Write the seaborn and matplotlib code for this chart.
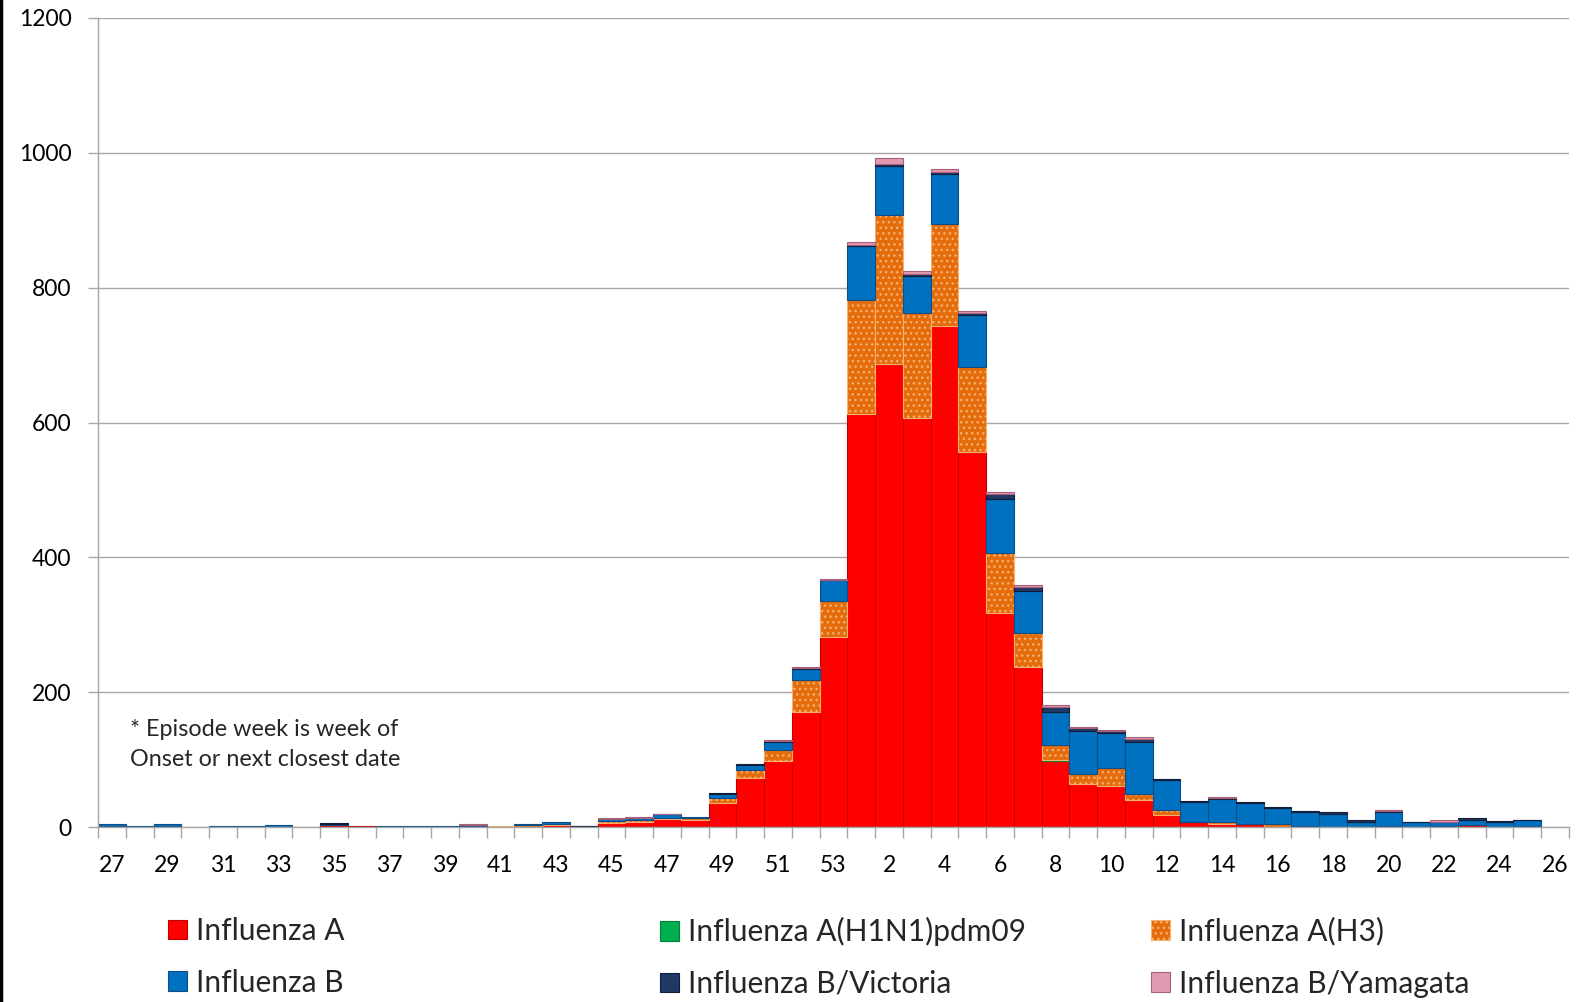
import numpy as np
import matplotlib
matplotlib.use("Agg")
import matplotlib.pyplot as plt
import seaborn as sns
from matplotlib.patches import Patch
from matplotlib.lines import Line2D

# episode weeks, season runs from week 27 to week 26
weeks = list(range(27, 54)) + list(range(1, 27))

flu_a = [2, 0, 2, 0, 0, 0, 0, 0, 3, 2, 0, 0, 0, 2, 0, 0, 3, 0,
         6, 7, 12, 11, 35, 73, 98, 171, 282,
         613, 687, 606, 743, 556, 317, 237, 98, 64, 61, 40, 18,
         7, 5, 5, 0, 2, 0, 0, 0, 0, 1, 3, 0, 2, 0]
flu_h1n1 = [0, 0, 0, 0, 0, 0, 0, 0, 0, 0, 0, 0, 0, 0, 0, 0, 0, 0,
            0, 0, 0, 0, 0, 0, 0, 0, 0,
            0, 0, 0, 0, 0, 0, 0, 2, 0, 0, 0, 0,
            0, 0, 0, 0, 0, 0, 0, 0, 0, 0, 0, 0, 0, 0]
flu_h3 = [0, 0, 0, 0, 0, 0, 0, 0, 0, 0, 0, 0, 0, 0, 1, 3, 2, 0,
          3, 3, 2, 2, 8, 11, 16, 47, 53,
          168, 221, 157, 152, 126, 89, 51, 21, 14, 27, 9, 7,
          0, 3, 0, 4, 0, 0, 0, 2, 0, 0, 0, 0, 0, 0]
flu_b = [2, 2, 3, 0, 2, 2, 3, 0, 2, 0, 1, 2, 1, 1, 0, 2, 2, 1,
         3, 3, 5, 2, 6, 8, 12, 17, 31,
         81, 73, 55, 73, 78, 80, 62, 50, 65, 51, 77, 44,
         30, 33, 30, 24, 20, 20, 8, 20, 7, 7, 8, 8, 8, 0]
flu_b_vic = [0, 0, 0, 0, 0, 0, 0, 0, 1, 0, 0, 0, 0, 0, 0, 0, 0, 1,
             0, 1, 0, 0, 1, 1, 2, 1, 1,
             1, 2, 2, 4, 2, 8, 6, 7, 4, 4, 5, 2,
             2, 2, 2, 2, 2, 2, 2, 2, 1, 0, 2, 1, 1, 0]
flu_b_yam = [0, 0, 0, 0, 0, 0, 0, 0, 0, 0, 0, 0, 0, 1, 0, 0, 0, 0,
             1, 1, 1, 0, 0, 0, 1, 1, 1,
             5, 10, 5, 4, 3, 3, 3, 3, 1, 1, 2, 0,
             0, 2, 0, 0, 0, 0, 0, 1, 0, 2, 0, 0, 0, 0]

series_names = ["Influenza A", "Influenza A(H1N1)pdm09", "Influenza A(H3)",
                "Influenza B", "Influenza B/Victoria", "Influenza B/Yamagata"]
series_vals = [flu_a, flu_h1n1, flu_h3, flu_b, flu_b_vic, flu_b_yam]
face_colors = ["#FF0000", "#00B050", "#E46C0A", "#0070C0", "#1F3864", "#E29AB2"]
edge_colors = ["#C00000", "#00803A", "#F8B070", "#0B4F86", "#101E3A", "#A8607A"]
hatches = [None, None, "...", None, None, None]

sns.set_theme(style="white")
plt.rcParams['font.family'] = ['Lato', 'DejaVu Sans']
plt.rcParams['hatch.linewidth'] = 1.0

fig = plt.figure(figsize=(15.76, 10.02), dpi=100)
ax = fig.add_axes([98 / 1576, 1 - 827 / 1002, (1569 - 98) / 1576, (827 - 18) / 1002])

labels = [str(w) for w in weeks]
bottom = np.zeros(len(weeks))
for vals, fc, ec, h in zip(series_vals, face_colors, edge_colors, hatches):
    vals = np.array(vals, dtype=float)
    lw = np.where(vals > 0, 0.8, 0.0)
    sns.barplot(x=labels, y=vals, order=labels, bottom=bottom, color=fc,
                saturation=1, width=1.0, edgecolor=ec, linewidth=lw,
                hatch=h, errorbar=None, ax=ax)
    bottom += vals

grey = "#A6A6A6"
ax.set_xlim(-0.5, 52.5)
ax.set_ylim(0, 1200)
ax.set_yticks(range(0, 1201, 200))
ax.yaxis.grid(True, color=grey, lw=1)
ax.set_axisbelow(True)
ax.set_xlabel("")
ax.set_ylabel("")

ax.set_xticks(range(0, 53, 2))
ax.set_xticklabels(labels[::2])
ax.set_xticks(np.arange(-0.5, 53, 1), minor=True)
ax.tick_params(axis="x", which="major", length=0, pad=20, labelsize=16.5, colors="black")
ax.tick_params(axis="x", which="minor", bottom=True, length=8, color=grey, width=1)
ax.tick_params(axis="y", left=True, length=7, color=grey, width=1, pad=12,
               labelsize=16.5, labelcolor="black")

for s in ["top", "right"]:
    ax.spines[s].set_visible(False)
for s in ["left", "bottom"]:
    ax.spines[s].set_color(grey)
    ax.spines[s].set_linewidth(1)

fig.text(130 / 1576, 1 - 729 / 1002, "* Episode week is week of", fontsize=16.8, va="center")
fig.text(130 / 1576, 1 - 760 / 1002, "Onset or next closest date", fontsize=16.8, va="center")

# legend: three columns of two entries
handles = [Patch(facecolor=fc, edgecolor=ec, hatch=h, lw=0.8)
           for fc, ec, h in zip(face_colors, edge_colors, hatches)]
col_x = [168, 660, 1151]
for i, x in enumerate(col_x):
    idx = [i, i + 3]
    fig.legend([handles[j] for j in idx], [series_names[j] for j in idx],
               loc="upper left", bbox_to_anchor=(x / 1576, 1 - 917 / 1002),
               frameon=False, fontsize=21.5, handlelength=0.65, handleheight=0.65,
               handletextpad=0.3, labelspacing=0.8, borderpad=0, borderaxespad=0)

fig.add_artist(Line2D([0.0008, 0.0008], [0, 1], color="black", lw=2.5,
                      transform=fig.transFigure))

fig.savefig("out.png", dpi=100)
